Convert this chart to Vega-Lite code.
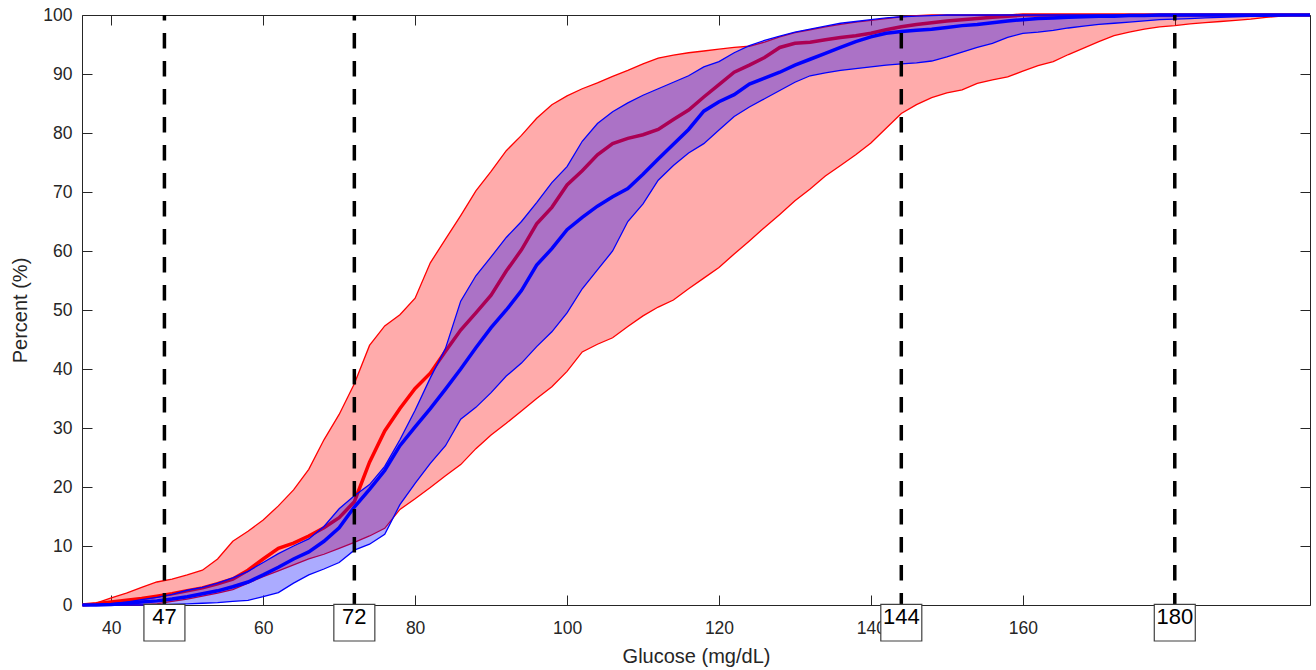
{
"$schema":"https://vega.github.io/schema/vega-lite/v6.json",
"width":1228,"height":590,
"autosize":{"type":"none"},
"padding":{"left":82,"top":15,"right":6,"bottom":65},
"background":"white",
"config":{"font":"Liberation Sans","view":{"stroke":"#262626","strokeWidth":1},
"axis":{"labelFont":"Liberation Sans","titleFont":"Liberation Sans","labelColor":"#262626","titleColor":"#262626","domainColor":"#262626","tickColor":"#262626","grid":false,"labelFontSize":17.5,"titleFontSize":20,"titleFontWeight":"normal"}},
"datasets":{
"red":[
{"x":36.2,"lo":0,"hi":0,"med":0},{"x":38,"lo":0,"hi":0.3,"med":0.2},{"x":40,"lo":0,"hi":1.2,"med":0.5},{"x":42,"lo":0,"hi":2.0,"med":0.8},{"x":44,"lo":0,"hi":3.0,"med":1.1},{"x":46,"lo":0.2,"hi":3.9,"med":1.5},{"x":48,"lo":0.6,"hi":4.4,"med":1.9},{"x":50,"lo":1.0,"hi":5.1,"med":2.4},{"x":52,"lo":1.5,"hi":5.9,"med":2.9},{"x":54,"lo":2.0,"hi":7.8,"med":3.6},{"x":56,"lo":2.6,"hi":10.8,"med":4.4},{"x":58,"lo":3.7,"hi":12.5,"med":5.9},{"x":60,"lo":4.8,"hi":14.4,"med":7.8},{"x":62,"lo":5.8,"hi":16.8,"med":9.6},{"x":64,"lo":6.8,"hi":19.5,"med":10.5},{"x":66,"lo":7.8,"hi":23.0,"med":11.7},{"x":68,"lo":8.6,"hi":28.0,"med":13.1},{"x":70,"lo":9.6,"hi":32.3,"med":14.8},{"x":72,"lo":10.6,"hi":37.5,"med":17.5},{"x":74,"lo":11.7,"hi":44,"med":24.2},{"x":76,"lo":13.0,"hi":47.3,"med":29.5},{"x":78,"lo":16.2,"hi":49.2,"med":33.3},{"x":80,"lo":18,"hi":52,"med":36.7},{"x":82,"lo":19.9,"hi":58,"med":39.3},{"x":84,"lo":21.9,"hi":62,"med":43},{"x":86,"lo":23.8,"hi":66,"med":46.6},{"x":88,"lo":26.5,"hi":70.2,"med":49.5},{"x":90,"lo":28.8,"hi":73.5,"med":52.5},{"x":92,"lo":30.8,"hi":77,"med":56.6},{"x":94,"lo":32.9,"hi":79.6,"med":60.2},{"x":96,"lo":35,"hi":82.5,"med":64.6},{"x":98,"lo":37,"hi":84.8,"med":67.4},{"x":100,"lo":39.6,"hi":86.3,"med":71.2},{"x":102,"lo":42.9,"hi":87.5,"med":73.6},{"x":104,"lo":44.2,"hi":88.5,"med":76.3},{"x":106,"lo":45.3,"hi":89.6,"med":78.2},{"x":108,"lo":47.2,"hi":90.6,"med":79.1},{"x":110,"lo":49,"hi":91.7,"med":79.7},{"x":112,"lo":50.5,"hi":92.7,"med":80.6},{"x":114,"lo":51.7,"hi":93.2,"med":82.3},{"x":116,"lo":53.6,"hi":93.6,"med":83.9},{"x":118,"lo":55.4,"hi":93.9,"med":86.1},{"x":120,"lo":57.2,"hi":94.2,"med":88.2},{"x":122,"lo":59.5,"hi":94.5,"med":90.3},{"x":124,"lo":61.7,"hi":94.7,"med":91.5},{"x":126,"lo":64,"hi":95.4,"med":92.8},{"x":128,"lo":66.2,"hi":96.3,"med":94.5},{"x":130,"lo":68.5,"hi":97,"med":95.2},{"x":132,"lo":70.5,"hi":97.5,"med":95.4},{"x":134,"lo":72.7,"hi":98,"med":95.8},{"x":136,"lo":74.5,"hi":98.4,"med":96.2},{"x":138,"lo":76.3,"hi":98.8,"med":96.5},{"x":140,"lo":78.3,"hi":99.1,"med":96.9},{"x":142,"lo":80.8,"hi":99.4,"med":97.5},{"x":144,"lo":83.3,"hi":99.7,"med":98},{"x":146,"lo":84.8,"hi":99.9,"med":98.4},{"x":148,"lo":86,"hi":100,"med":98.7},{"x":150,"lo":86.8,"hi":100,"med":99},{"x":152,"lo":87.3,"hi":100,"med":99.2},{"x":154,"lo":88.4,"hi":100,"med":99.4},{"x":156,"lo":89,"hi":100,"med":99.6},{"x":158,"lo":89.5,"hi":100,"med":99.8},{"x":160,"lo":90.5,"hi":100,"med":100},{"x":162,"lo":91.4,"hi":100,"med":100},{"x":164,"lo":92.1,"hi":100,"med":100},{"x":166,"lo":93.3,"hi":100,"med":100},{"x":168,"lo":94.4,"hi":100,"med":100},{"x":170,"lo":95.5,"hi":100,"med":100},{"x":172,"lo":96.5,"hi":100,"med":100},{"x":174,"lo":97.1,"hi":100,"med":100},{"x":176,"lo":97.6,"hi":100,"med":100},{"x":178,"lo":98,"hi":100,"med":100},{"x":180,"lo":98.2,"hi":100,"med":100},{"x":182,"lo":98.5,"hi":100,"med":100},{"x":184,"lo":98.7,"hi":100,"med":100},{"x":186,"lo":98.9,"hi":100,"med":100},{"x":188,"lo":99.1,"hi":100,"med":100},{"x":190,"lo":99.3,"hi":100,"med":100},{"x":192,"lo":99.6,"hi":100,"med":100},{"x":194,"lo":99.8,"hi":100,"med":100},{"x":196,"lo":100,"hi":100,"med":100},{"x":197.8,"lo":100,"hi":100,"med":100}
],
"blue":[
{"x":36.2,"lo":0,"hi":0,"med":0},{"x":38,"lo":0,"hi":0,"med":0},{"x":40,"lo":0,"hi":0.2,"med":0.1},{"x":42,"lo":0,"hi":0.5,"med":0.3},{"x":44,"lo":0,"hi":0.9,"med":0.5},{"x":46,"lo":0,"hi":1.3,"med":0.7},{"x":48,"lo":0.1,"hi":1.8,"med":1.0},{"x":50,"lo":0.2,"hi":2.5,"med":1.4},{"x":52,"lo":0.3,"hi":3.0,"med":1.9},{"x":54,"lo":0.4,"hi":3.7,"med":2.4},{"x":56,"lo":0.6,"hi":4.6,"med":3.1},{"x":58,"lo":0.8,"hi":5.7,"med":3.9},{"x":60,"lo":1.4,"hi":7.2,"med":5.1},{"x":62,"lo":2.1,"hi":8.7,"med":6.4},{"x":64,"lo":3.7,"hi":10,"med":7.8},{"x":66,"lo":5.1,"hi":11.2,"med":9},{"x":68,"lo":6.1,"hi":13.3,"med":10.8},{"x":70,"lo":7.2,"hi":16.3,"med":13.1},{"x":72,"lo":9.3,"hi":18.5,"med":16.6},{"x":74,"lo":10.3,"hi":20.4,"med":19.6},{"x":76,"lo":12,"hi":23.5,"med":22.8},{"x":78,"lo":17,"hi":28,"med":27},{"x":80,"lo":20.6,"hi":33,"med":30.2},{"x":82,"lo":24,"hi":38.5,"med":33.3},{"x":84,"lo":27,"hi":43.5,"med":36.6},{"x":86,"lo":31.5,"hi":51.5,"med":40},{"x":88,"lo":33.5,"hi":55.8,"med":43.6},{"x":90,"lo":36,"hi":59,"med":47},{"x":92,"lo":38.8,"hi":62.3,"med":50},{"x":94,"lo":41,"hi":65,"med":53.3},{"x":96,"lo":43.8,"hi":68.2,"med":57.6},{"x":98,"lo":46.3,"hi":71.6,"med":60.4},{"x":100,"lo":49.5,"hi":74.3,"med":63.6},{"x":102,"lo":53.6,"hi":78.6,"med":65.7},{"x":104,"lo":56.8,"hi":81.6,"med":67.6},{"x":106,"lo":60,"hi":83.6,"med":69.2},{"x":108,"lo":65,"hi":85.1,"med":70.6},{"x":110,"lo":68,"hi":86.4,"med":73},{"x":112,"lo":72,"hi":87.5,"med":75.6},{"x":114,"lo":74.5,"hi":88.6,"med":78.1},{"x":116,"lo":76.6,"hi":89.7,"med":80.6},{"x":118,"lo":78.2,"hi":91.2,"med":83.7},{"x":120,"lo":80.5,"hi":92.1,"med":85.3},{"x":122,"lo":82.8,"hi":93.6,"med":86.5},{"x":124,"lo":84.4,"hi":94.8,"med":88.3},{"x":126,"lo":85.8,"hi":95.7,"med":89.3},{"x":128,"lo":87.2,"hi":96.4,"med":90.3},{"x":130,"lo":88.6,"hi":97.1,"med":91.5},{"x":132,"lo":89.7,"hi":97.6,"med":92.5},{"x":134,"lo":90.2,"hi":98.1,"med":93.5},{"x":136,"lo":90.6,"hi":98.6,"med":94.5},{"x":138,"lo":90.9,"hi":98.9,"med":95.5},{"x":140,"lo":91.2,"hi":99.2,"med":96.3},{"x":142,"lo":91.5,"hi":99.5,"med":96.9},{"x":144,"lo":91.7,"hi":99.7,"med":97.2},{"x":146,"lo":91.9,"hi":99.8,"med":97.4},{"x":148,"lo":92.2,"hi":99.9,"med":97.6},{"x":150,"lo":92.9,"hi":100,"med":97.9},{"x":152,"lo":93.7,"hi":100,"med":98.2},{"x":154,"lo":94.5,"hi":100,"med":98.4},{"x":156,"lo":95.2,"hi":100,"med":98.7},{"x":158,"lo":96.2,"hi":100,"med":99},{"x":160,"lo":96.9,"hi":100,"med":99.2},{"x":162,"lo":97.1,"hi":100,"med":99.4},{"x":164,"lo":97.4,"hi":100,"med":99.5},{"x":166,"lo":97.8,"hi":100,"med":99.6},{"x":168,"lo":98.1,"hi":100,"med":99.7},{"x":170,"lo":98.4,"hi":100,"med":99.8},{"x":172,"lo":98.6,"hi":100,"med":99.8},{"x":174,"lo":98.8,"hi":100,"med":99.9},{"x":176,"lo":99,"hi":100,"med":99.9},{"x":178,"lo":99.2,"hi":100,"med":100},{"x":180,"lo":99.3,"hi":100,"med":100},{"x":182,"lo":99.4,"hi":100,"med":100},{"x":184,"lo":99.5,"hi":100,"med":100},{"x":186,"lo":99.6,"hi":100,"med":100},{"x":188,"lo":99.7,"hi":100,"med":100},{"x":190,"lo":99.75,"hi":100,"med":100},{"x":192,"lo":99.8,"hi":100,"med":100},{"x":194,"lo":99.9,"hi":100,"med":100},{"x":196,"lo":100,"hi":100,"med":100},{"x":197.8,"lo":100,"hi":100,"med":100}
],
"marks":[{"g":47},{"g":72},{"g":144},{"g":180}]
},
"resolve":{"axis":{"x":"independent","y":"independent"}},
"layer":[
{"data":{"name":"red"},"mark":{"type":"area","color":"#ff0000","opacity":0.33},
 "encoding":{"x":{"field":"x","type":"quantitative","scale":{"domain":[36.15,197.8],"nice":false,"zero":false,"padding":0},"axis":{"orient":"bottom","values":[40,60,80,100,120,140,160,180],"labelExpr":"datum.value == 180 ? '' : datum.label","tickSize":-10,"labelPadding":24,"domain":false,"title":"Glucose (mg/dL)","titlePadding":10}},
 "y":{"field":"lo","type":"quantitative","scale":{"domain":[0,100],"nice":false,"padding":0},"axis":{"orient":"left","values":[0,10,20,30,40,50,60,70,80,90,100],"tickSize":-10,"labelPadding":20,"domain":false,"title":"Percent (%)","titlePadding":12}},
 "y2":{"field":"hi"}}},
{"data":{"name":"red"},"mark":{"type":"line","color":"#ff0000","strokeWidth":1.3},
 "encoding":{"x":{"field":"x","type":"quantitative","axis":null},"y":{"field":"lo","type":"quantitative","axis":null}}},
{"data":{"name":"red"},"mark":{"type":"line","color":"#ff0000","strokeWidth":1.3},
 "encoding":{"x":{"field":"x","type":"quantitative","axis":{"orient":"top","values":[40,60,80,100,120,140,160,180],"tickSize":-10,"labels":false,"domain":false,"title":null}},"y":{"field":"hi","type":"quantitative","axis":{"orient":"right","values":[0,10,20,30,40,50,60,70,80,90,100],"tickSize":-10,"labels":false,"domain":false,"title":null}}}},
{"data":{"name":"red"},"mark":{"type":"line","color":"#ff0000","strokeWidth":3.5},
 "encoding":{"x":{"field":"x","type":"quantitative","axis":null},"y":{"field":"med","type":"quantitative","axis":null}}},
{"data":{"name":"blue"},"mark":{"type":"area","color":"#0000ff","opacity":0.33},
 "encoding":{"x":{"field":"x","type":"quantitative","axis":null},"y":{"field":"lo","type":"quantitative","axis":null},"y2":{"field":"hi"}}},
{"data":{"name":"blue"},"mark":{"type":"line","color":"#0000ff","strokeWidth":1.3},
 "encoding":{"x":{"field":"x","type":"quantitative","axis":null},"y":{"field":"lo","type":"quantitative","axis":null}}},
{"data":{"name":"blue"},"mark":{"type":"line","color":"#0000ff","strokeWidth":1.3},
 "encoding":{"x":{"field":"x","type":"quantitative","axis":null},"y":{"field":"hi","type":"quantitative","axis":null}}},
{"data":{"name":"blue"},"mark":{"type":"line","color":"#0000ff","strokeWidth":3.5},
 "encoding":{"x":{"field":"x","type":"quantitative","axis":null},"y":{"field":"med","type":"quantitative","axis":null}}},
{"data":{"name":"marks"},"mark":{"type":"rule","color":"#000000","strokeWidth":3.5,"strokeDash":[15.5,12.5],"strokeDashOffset":10},
 "encoding":{"x":{"field":"g","type":"quantitative","axis":null}}},
{"data":{"name":"marks"},"mark":{"type":"bar","width":41,"fill":"#ffffff","stroke":"#404040","strokeWidth":1.2,"clip":false},
 "encoding":{"x":{"field":"g","type":"quantitative","axis":null},"y":{"datum":0.1,"type":"quantitative","axis":null},"y2":{"datum":-6.1}}},
{"data":{"name":"marks"},"mark":{"type":"text","font":"Liberation Sans","fontSize":22,"color":"#000000","baseline":"middle","align":"center","clip":false},
 "encoding":{"x":{"field":"g","type":"quantitative","axis":null},"y":{"datum":-2.0,"type":"quantitative","axis":null},"text":{"field":"g","type":"quantitative"}}}
]
}
